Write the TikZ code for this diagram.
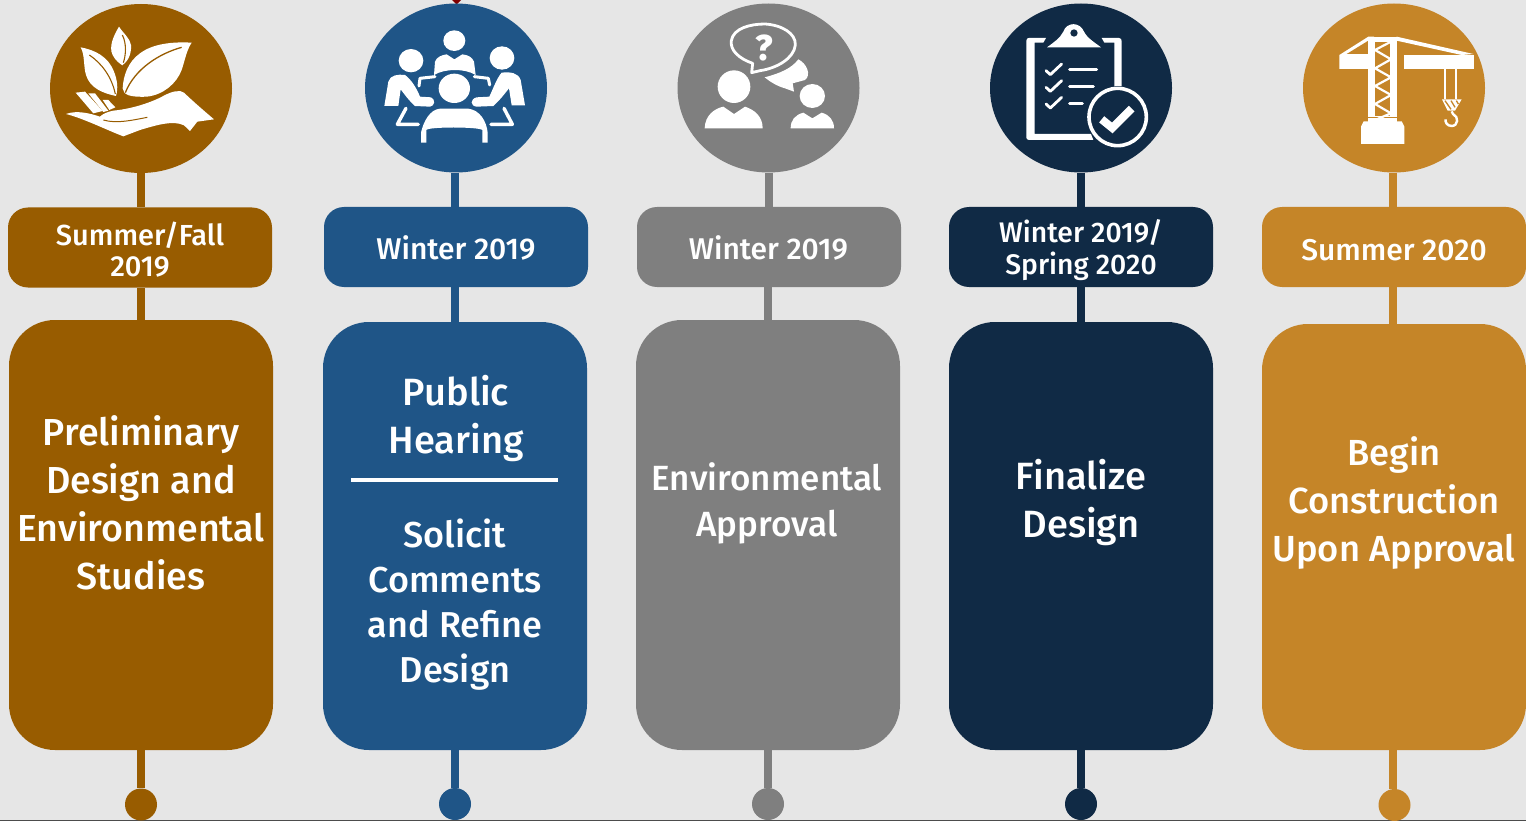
\documentclass[tikz,border=0pt]{standalone}
\usepackage{fontspec}
\setmainfont[UprightFont=* Medium]{Fira Sans}
\usetikzlibrary{shapes.geometric}
\definecolor{bg}{HTML}{E6E6E6}
\definecolor{cbrown}{HTML}{985C00}
\definecolor{cblue}{HTML}{1F5587}
\definecolor{cgrey}{HTML}{7F7F7F}
\definecolor{cnavy}{HTML}{102A45}
\definecolor{cochre}{HTML}{C58528}
\tikzset{
 disc/.style={ellipse,fill=#1,draw=none,minimum width=182pt,minimum height=169pt,inner sep=0pt},
 pill/.style={rectangle,rounded corners=20pt,fill=#1,minimum width=264pt,minimum height=80pt,inner sep=0pt},
 body/.style={rectangle,rounded corners=46pt,fill=#1,minimum width=264pt,inner sep=0pt},
 dotnode/.style={circle,fill=#1,minimum size=32pt,inner sep=0pt},
 stem/.style={draw=#1,line width=8pt},
 bodytext/.style={text=white,align=center,inner sep=0pt,font=\fontsize{38}{48}\selectfont},
 pilltext/.style={text=white,align=center,inner sep=0pt,font=\fontsize{30}{32}\selectfont},
 ic/.style={fill=white,draw=none},
 icline/.style={draw=white,line cap=round,line join=round},
}
\begin{document}
\begin{tikzpicture}[x=1pt,y=-1pt]
\useasboundingbox (0,0) rectangle (1526,821);
\fill[bg] (0,0) rectangle (1526,821);
\draw[draw=black!70,line width=1.2pt] (0,820.4) -- (1526,820.4);
\fill[red!50!black] (452,0) -- (456.5,4.5) -- (461,0) -- cycle;
% column 1
\node[disc=cbrown] (c1) at (141,88.5) {};
\node[pill=cbrown] (p1) at (140,247.5) {};
\node[body=cbrown,minimum height=430pt] (b1) at (141,535) {};
\node[dotnode=cbrown] (d1) at (141,804.5) {};
% column 2
\node[disc=cblue] (c2) at (456,88) {};
\node[pill=cblue] (p2) at (456,247) {};
\node[body=cblue,minimum height=428pt] (b2) at (455,536) {};
\node[dotnode=cblue] (d2) at (455,804) {};
% column 3
\node[disc=cgrey] (c3) at (768.5,88) {};
\node[pill=cgrey] (p3) at (769,247) {};
\node[body=cgrey,minimum height=430pt] (b3) at (768,535) {};
\node[dotnode=cgrey] (d3) at (768,804) {};
% column 4
\node[disc=cnavy] (c4) at (1081,88) {};
\node[pill=cnavy] (p4) at (1081,247) {};
\node[body=cnavy,minimum height=428pt] (b4) at (1081,536) {};
\node[dotnode=cnavy] (d4) at (1081,804) {};
% column 5
\node[disc=cochre] (c5) at (1394,88) {};
\node[pill=cochre] (p5) at (1394,247) {};
\node[body=cochre,minimum height=426pt] (b5) at (1394,537) {};
\node[dotnode=cochre] (d5) at (1394.5,805) {};
% stems
\draw[stem=cbrown] (c1.south) -- (c1.south |- p1.north);
\draw[stem=cbrown] (b1.north) -- (b1.north |- p1.south);
\draw[stem=cbrown] (b1.south) -- (d1.north);
\draw[stem=cblue] ([xshift=-1pt]c2.south) -- ([xshift=-1pt]c2.south |- p2.north);
\draw[stem=cblue] (b2.north) -- (b2.north |- p2.south);
\draw[stem=cblue] (b2.south) -- (d2.north);
\draw[stem=cgrey] (c3.south) -- (c3.south |- p3.north);
\draw[stem=cgrey] (b3.north) -- (b3.north |- p3.south);
\draw[stem=cgrey] (b3.south) -- (d3.north);
\draw[stem=cnavy] (c4.south) -- (c4.south |- p4.north);
\draw[stem=cnavy] (b4.north) -- (b4.north |- p4.south);
\draw[stem=cnavy] (b4.south) -- (d4.north);
\draw[stem=cochre] ([xshift=-1pt]c5.south) -- ([xshift=-1pt]c5.south |- p5.north);
\draw[stem=cochre] ([xshift=-1pt]b5.north) -- ([xshift=-1pt]b5.north |- p5.south);
\draw[stem=cochre] ([xshift=-1pt]b5.south) -- ([xshift=-1pt]b5.south |- d5.north);
% pill text
\node[pilltext,font=\fontsize{29}{31.5}\selectfont] (pt1) at (140,249.5) {Summer/Fall\\2019};
\node[pilltext] (pt2) at (456,248) {Winter 2019};
\node[pilltext] (pt3) at (768.5,248) {Winter 2019};
\node[pilltext,font=\fontsize{28.3}{32}\selectfont] (pt4) at (1081,250.5) {Winter 2019/\\Spring 2020};
\node[pilltext] (pt5) at (1394,250.5) {Summer 2020};
% body text
\node[bodytext,font=\fontsize{37.6}{48}\selectfont] (t1) at (141,502.5) {Preliminary\\Design and\\Environmental\\Studies};
\node[bodytext] (t2a) at (456,418.5) {Public\\Hearing};
\coordinate (ruleL) at (351,480);
\coordinate (ruleR) at (558,480);
\draw[white,line width=3.4pt] (ruleL) -- (ruleR);
\node[bodytext,font=\fontsize{36}{45}\selectfont] (t2b) at (455,604.5) {Solicit\\Comments\\and Refine\\Design};
\node[bodytext,font=\fontsize{35}{46}\selectfont] (t3) at (767,503.5) {Environmental\\Approval};
\node[bodytext] (t4) at (1081,502.5) {Finalize\\Design};
\node[bodytext,font=\fontsize{36.3}{48}\selectfont] (t5) at (1394,502.5) {Begin\\Construction\\Upon Approval};
% icon 1: plant in hand
\begin{scope}[shift={(40,0)},xscale=1/3,yscale=1/3]
\fill[ic] (237,80) .. controls (222,105) and (205,140) .. (218,165) .. controls (225,180) and (238,190) .. (247,196) .. controls (262,185) and (275,165) .. (273,135) .. controls (270,115) and (250,100) .. (237,80) -- cycle;
\draw[cbrown,line width=1.1pt] (247,105) .. controls (260,130) and (258,165) .. (250,188);
\fill[ic] (122,142) .. controls (165,150) and (205,170) .. (222,215) .. controls (232,240) and (235,265) .. (228,288) .. controls (190,280) and (150,265) .. (138,225) .. controls (130,200) and (135,165) .. (122,142) -- cycle;
\draw[cbrown,line width=1.1pt] (148,165) .. controls (185,190) and (215,230) .. (226,282);
\fill[ic] (455,128) .. controls (400,125) and (340,130) .. (300,160) .. controls (265,185) and (250,225) .. (248,265) .. controls (250,285) and (270,292) .. (320,290) .. controls (370,285) and (410,250) .. (425,210) .. controls (435,180) and (440,150) .. (455,128) -- cycle;
\draw[cbrown,line width=1.3pt] (425,142) .. controls (360,160) and (285,205) .. (256,278);
\fill[ic] (107,278) -- (135,275) -- (188,333) -- (160,340) -- cycle;
\fill[ic] (145,280) -- (165,280) -- (205,332) -- (190,336) -- cycle;
\fill[ic] (188,300) -- (205,300) -- (226,322) -- (208,330) -- cycle;
\fill[ic] (78,342) .. controls (110,330) and (150,340) .. (180,350) .. controls (185,345) and (195,337) .. (220,332) .. controls (290,325) and (350,300) .. (375,285) .. controls (395,275) and (420,268) .. (432,278) .. controls (460,305) and (495,335) .. (522,358) -- (472,365) -- (450,393) -- (432,376) .. controls (400,360) and (350,375) .. (300,390) -- (250,409) .. controls (200,390) and (130,355) .. (78,342) -- cycle;
\draw[cbrown,line width=1pt] (190,360) .. controls (230,372) and (280,360) .. (322,352);
\end{scope}
% icon 2: people at a table
\begin{scope}[shift={(355,0)},xscale=1/3,yscale=1/3]
\fill[ic] (298,122) ellipse [x radius=33,y radius=31];
\fill[ic] (168,182) ellipse [x radius=37,y radius=35];
\fill[ic] (441,174) ellipse [x radius=37,y radius=35];
\fill[ic] (298,265) ellipse [x radius=47,y radius=44];
\fill[ic] (237,225) -- (240,185) .. controls (245,170) and (262,165) .. (275,163) -- (298,178) -- (322,163) .. controls (340,165) and (352,172) .. (357,185) -- (362,225) .. controls (330,205) and (270,205) .. cycle;
\draw[icline,line width=3pt] (240,230) -- (195,235) -- (192,258);
\draw[icline,line width=3pt] (358,230) -- (400,235) -- (404,255);
\fill[ic] (88,318) -- (100,245) .. controls (105,225) and (130,222) .. (150,225) .. controls (170,240) and (185,265) .. (195,290) -- (228,292) .. controls (242,298) and (240,318) .. (225,320) -- (180,318) .. controls (160,300) and (150,285) .. (137,268) -- (130,318) -- cycle;
\fill[ic] (510,316) -- (497,240) .. controls (490,218) and (465,215) .. (440,218) .. controls (425,235) and (415,265) .. (403,290) -- (365,292) .. controls (345,297) and (345,318) .. (365,320) -- (415,318) .. controls (435,300) and (450,280) .. (462,265) -- (470,316) -- cycle;
\fill[ic] (198,428) -- (198,398) .. controls (205,365) and (225,328) .. (255,326) -- (340,326) .. controls (375,330) and (395,365) .. (398,398) -- (398,428) -- (382,428) -- (382,390) .. controls (370,380) and (220,380) .. (214,390) -- (214,428) -- cycle;
\draw[icline,line width=3.4pt] (153,325) -- (127,373) -- (190,373);
\draw[icline,line width=3.4pt] (447,325) -- (472,373) -- (408,373);
\end{scope}
% icon 3: two people talking
\begin{scope}[shift={(670,0)},xscale=1/3,yscale=1/3]
\draw[icline,line width=2.8pt] (245,218) -- (248,190) .. controls (205,175) and (180,150) .. (184,122) .. controls (190,85) and (240,72) .. (285,72) .. controls (335,75) and (378,100) .. (376,135) .. controls (372,175) and (320,205) .. (270,212) -- cycle;
\node[inner sep=0pt,text=white,font=\fontsize{36}{36}\bfseries\selectfont] (qm) at (282,143) {?};
\fill[ic] (284,232) .. controls (330,220) and (365,205) .. (385,178) .. controls (410,190) and (425,225) .. (405,240) -- (368,250) -- (372,275) -- (345,265) .. controls (320,258) and (300,245) .. cycle;
\fill[ic] (192,260) circle [radius=49];
\fill[ic] (427,288) ellipse [x radius=38,y radius=36];
\fill[ic] (104,385) .. controls (105,345) and (135,325) .. (160,320) -- (192,342) -- (225,320) .. controls (255,330) and (278,350) .. (278,385) -- cycle;
\fill[ic] (362,385) .. controls (362,360) and (375,345) .. (400,338) -- (427,355) -- (455,338) .. controls (480,345) and (492,362) .. (492,385) -- cycle;
\end{scope}
% icon 4: clipboard with check
\begin{scope}[shift={(985,0)},xscale=1/3,yscale=1/3]
\fill[ic,even odd rule] (132,114) -- (183,114) -- (175,128) -- (149,128) -- (149,402) -- (318,402) -- (325,420) -- (132,420) .. controls (126,420) and (124,416) .. (124,412) -- (124,122) .. controls (124,116) and (128,114) .. cycle;
\fill[ic] (350,114) -- (402,114) .. controls (408,114) and (410,118) .. (410,124) -- (410,268) -- (388,272) -- (388,128) -- (358,128) -- cycle;
\fill[ic] (186,142) .. controls (205,128) and (225,115) .. (235,95) .. controls (245,65) and (285,65) .. (297,95) .. controls (307,115) and (330,128) .. (348,142) -- cycle;
\fill[cnavy] (267,99) circle [radius=11];
\draw[icline,line width=2.8pt] (183,212) -- (196,224) -- (230,192);
\draw[icline,line width=2.8pt] (183,262) -- (196,274) -- (230,242);
\draw[icline,line width=2.8pt] (183,312) -- (196,324) -- (230,292);
\draw[icline,line width=3pt] (254,210) -- (335,210);
\draw[icline,line width=3pt] (254,260) -- (325,260);
\draw[icline,line width=3pt] (254,311) -- (292,311);
\fill[cnavy] (398,350) circle [radius=92];
\draw[draw=white,line width=3.6pt] (398,351) circle [radius=86];
\draw[draw=white,line cap=butt,line join=miter,line width=8pt] (350,358) -- (382,384) -- (440,326);
\end{scope}
% icon 5: tower crane
\begin{scope}[shift={(1295,0)},xscale=1/3,yscale=1/3]
\fill[ic] (133,207) -- (133,165) -- (220,110) -- (237,110) -- (237,207) -- cycle;
\fill[cochre] (155,162) -- (220,122) -- (220,162) -- cycle;
\fill[ic] (220,110) -- (305,110) -- (305,350) -- (220,350) -- cycle;
\fill[cochre] (238,125) -- (288,125) -- (288,348) -- (238,348) -- cycle;
\draw[white,line width=2.2pt] (288,125) -- (240,150) -- (288,178) -- (240,205) -- (288,232) -- (240,258) -- (288,285) -- (240,312) -- (288,340) -- (240,360);
\draw[white,line width=2.2pt] (238,125) -- (238,348);
\draw[white,line width=2.2pt] (288,125) -- (288,348);
\fill[ic] (206,364) -- (320,364) -- (328,380) -- (328,432) -- (198,432) -- (198,380) -- cycle;
\fill[ic] (220,355) -- (305,355) -- (305,370) -- (220,370) -- cycle;
\fill[ic] (328,165) -- (537,165) -- (537,207) -- (328,207) -- cycle;
\fill[ic] (305,110) -- (535,162) -- (500,165) -- (305,122) -- cycle;
\draw[white,line width=2pt] (451,207) -- (451,297);
\draw[white,line width=2pt] (483,207) -- (483,297);
\fill[ic] (441,298) -- (500,298) -- (480,332) -- (458,332) -- cycle;
\draw[cochre,line width=1.3pt] (450,302) -- (468,328);
\draw[cochre,line width=1.3pt] (468,302) -- (480,322);
\draw[cochre,line width=1.3pt] (484,302) -- (490,312);
\draw[white,line width=2.4pt] (470,334) -- (474,342) .. controls (492,350) and (490,378) .. (470,378) .. controls (455,378) and (450,365) .. (452,358);
\end{scope}
\end{tikzpicture}
\end{document}
